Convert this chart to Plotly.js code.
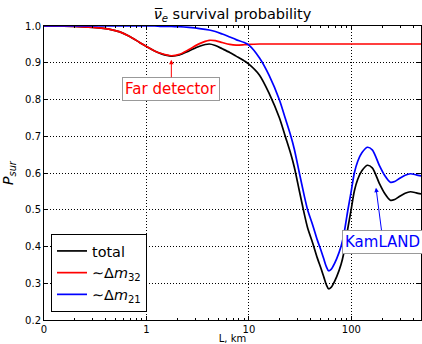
<!DOCTYPE html>
<html>
<head>
<meta charset="utf-8">
<script src="https://cdn.plot.ly/plotly-3.0.1.min.js"></script>
<style>html,body{margin:0;padding:0;background:#fff;}#chart{width:422px;height:344px;}</style>
</head>
<body>
<div id="chart"></div>
<script>
// Baseline L in km
const L = [0.1, 0.2, 0.3, 0.44, 0.55, 0.68, 0.85, 1.0, 1.2, 1.4, 1.75, 2.1, 2.6, 3.3, 4.1, 4.7, 5.5, 6.5, 7.5, 9, 10,
  12.7, 15.8, 19.8, 22.7, 25.7, 27.8, 31.1, 34.9, 37.4, 42, 46.5, 50.5, 54, 57, 60, 63.5, 66, 72, 79.3, 84.2, 92.6, 99,
  107, 115.5, 126.7, 143, 160, 187.5, 212, 240, 265, 294, 335, 377, 430, 479];

const pTotal = [1.000, 0.999, 0.996, 0.991, 0.984, 0.972, 0.956, 0.944, 0.932, 0.924, 0.918, 0.921, 0.932, 0.945, 0.951, 0.947, 0.938, 0.928, 0.918, 0.905, 0.896,
  0.866, 0.816, 0.751, 0.699, 0.651, 0.615, 0.551, 0.486, 0.451, 0.409, 0.369, 0.341, 0.316, 0.296, 0.285, 0.289, 0.296, 0.318, 0.351, 0.381, 0.451, 0.496,
  0.551, 0.583, 0.606, 0.621, 0.614, 0.572, 0.544, 0.526, 0.528, 0.536, 0.545, 0.549, 0.546, 0.543];

const p32 = [1.000, 0.999, 0.996, 0.991, 0.984, 0.972, 0.956, 0.944, 0.932, 0.925, 0.919, 0.923, 0.936, 0.952, 0.961, 0.960, 0.955, 0.950, 0.948, 0.949, 0.950,
  0.951, 0.951, 0.951, 0.951, 0.951, 0.951, 0.951, 0.951, 0.951, 0.951, 0.951, 0.951, 0.951, 0.951, 0.951, 0.951, 0.951, 0.951, 0.951, 0.951, 0.951, 0.951,
  0.951, 0.951, 0.951, 0.951, 0.951, 0.951, 0.951, 0.951, 0.951, 0.951, 0.951, 0.951, 0.951, 0.951];

const p21 = [1.000, 1.000, 1.000, 1.000, 1.000, 1.000, 1.000, 1.000, 1.000, 0.999, 0.999, 0.998, 0.996, 0.993, 0.989, 0.985, 0.978, 0.970, 0.963, 0.955, 0.948,
  0.913, 0.865, 0.800, 0.748, 0.700, 0.664, 0.600, 0.535, 0.500, 0.458, 0.418, 0.390, 0.365, 0.345, 0.334, 0.338, 0.345, 0.367, 0.400, 0.430, 0.500, 0.545,
  0.600, 0.632, 0.655, 0.670, 0.663, 0.621, 0.593, 0.575, 0.577, 0.585, 0.594, 0.598, 0.595, 0.592];

const seriesNames = ['total', '∼Δ<i>m</i><sub>32</sub>', '∼Δ<i>m</i><sub>21</sub>'];
const seriesColors = ['#000000', '#ff0000', '#0000ff'];
const xTickVals = [0.1, 1, 10, 100];
const xTickText = ['0', '1', '10', '100'];

const minorVals = [];
[0.1, 1, 10, 100].forEach(d => { for (let k = 2; k <= 9; k++) minorVals.push(k * d); });

const FONT = 'DejaVu Sans, Verdana, sans-serif';
const values = [pTotal, p32, p21];
const traces = values.map((v, i) => ({
  x: L, y: v, type: 'scatter', mode: 'lines', name: seriesNames[i],
  line: {color: seriesColors[i], width: 1.7, shape: 'spline', smoothing: 0.8}
}));

// Far detector arrow points to the minimum of the ~Δm32 curve
let iMin = 0;
for (let i = 0; i < 20; i++) if (p32[i] < p32[iMin]) iMin = i;

const axisCommon = {
  showline: true, linecolor: '#000', linewidth: 1, mirror: 'ticks',
  ticks: 'inside', ticklen: 4, tickcolor: '#000', tickwidth: 1,
  showgrid: true, gridcolor: '#000', griddash: '1px,2px', gridwidth: 1,
  zeroline: false, tickfont: {family: FONT, size: 10, color: '#000'}
};

const layout = {
  width: 422, height: 344,
  margin: {l: 44, r: 1, t: 26, b: 24},
  paper_bgcolor: '#fff', plot_bgcolor: '#fff',
  font: {family: FONT, color: '#000'},
  title: {text: '<i>ν̅</i><sub><i>e</i></sub> survival probability', font: {family: FONT, size: 14.5, color: '#000'},
          xref: 'paper', x: 0.5, xanchor: 'center', yref: 'container', y: 0.96, yanchor: 'middle'},
  xaxis: Object.assign({}, axisCommon, {
    type: 'log', range: [-1, 2.68], tickmode: 'array', tickvals: xTickVals, ticktext: xTickText,
    minor: {tickmode: 'array', tickvals: minorVals, ticks: 'inside', ticklen: 2, tickcolor: '#000', showgrid: false},
    title: {text: 'L, km', font: {family: FONT, size: 10, color: '#000'}, standoff: 4}
  }),
  yaxis: Object.assign({}, axisCommon, {
    range: [0.2, 1.0], tick0: 0.2, dtick: 0.1, tickformat: '.1f',
    title: {text: '<i>P</i><sub><i>sur</i></sub>', font: {family: FONT, size: 14, color: '#000'}, standoff: 8}
  }),
  showlegend: true,
  legend: {x: 0.0186, y: 0.027, xanchor: 'left', yanchor: 'bottom', bgcolor: '#fff', bordercolor: '#000', borderwidth: 1,
           font: {family: FONT, size: 14.4, color: '#000'}, itemwidth: 30, tracegroupgap: 0},
  annotations: [
    {x: Math.log10(L[iMin]), y: p32[iMin], xref: 'x', yref: 'y', text: 'Far detector',
     font: {family: FONT, size: 15, color: '#ff0000'}, showarrow: true, axref: 'pixel', ayref: 'pixel', ax: 0, ay: 33,
     standoff: 4, arrowcolor: '#ff0000', arrowwidth: 1, arrowhead: 2, arrowsize: 0.9,
     bgcolor: '#fff', bordercolor: '#999', borderwidth: 1, borderpad: 2},
    {x: Math.log10(174), y: 0.56, xref: 'x', yref: 'y', text: 'KamLAND',
     font: {family: FONT, size: 15, color: '#0000ff'}, showarrow: true, axref: 'pixel', ayref: 'pixel', ax: 7, ay: 54,
     arrowcolor: '#0000ff', arrowwidth: 1, arrowhead: 2, arrowsize: 0.9,
     bgcolor: '#fff', bordercolor: '#999', borderwidth: 1, borderpad: 2}
  ]
};

Plotly.newPlot('chart', traces, layout, {staticPlot: true, displayModeBar: false});
</script>
</body>
</html>
